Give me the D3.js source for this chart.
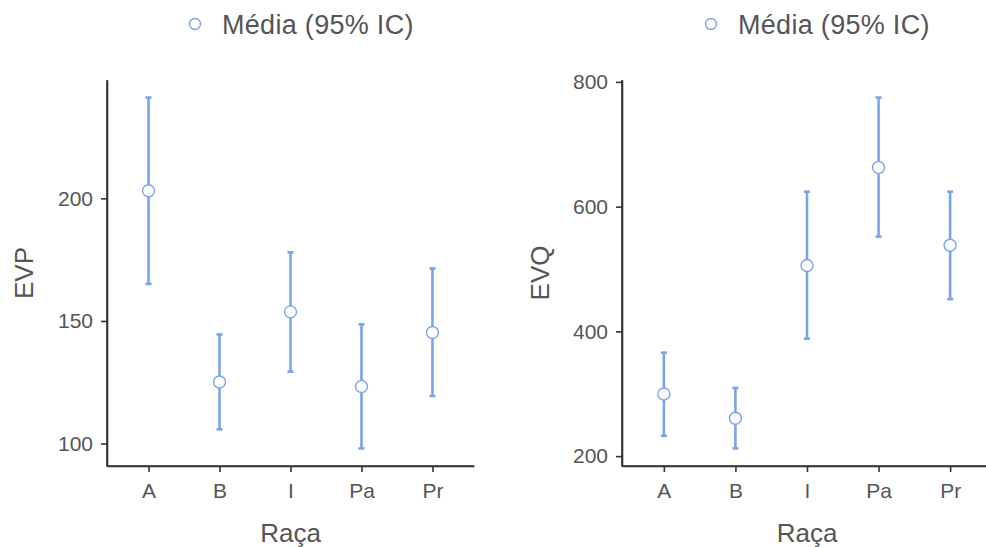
<!DOCTYPE html>
<html>
<head>
<meta charset="utf-8">
<script src="https://cdn.jsdelivr.net/npm/d3@7"></script>
<style>
  body { margin: 0; background: #fff; }
  svg { display: block; font-family: "Liberation Sans", Arial, sans-serif; }
</style>
</head>
<body>
<script>
// categories (Raça)
const racas = ["A", "B", "I", "Pa", "Pr"];

// EVP: mean and 95% CI
const evpMean  = [203.1, 125.1, 153.7, 123.3, 145.3];
const evpLower = [165.1, 105.8, 129.3, 98.0, 119.4];
const evpUpper = [241.1, 144.5, 178.0, 148.6, 171.4];
const evpTicks = [100, 150, 200];

// EVQ: mean and 95% CI
const evqMean  = [299.7, 260.8, 505.6, 662.9, 538.0];
const evqLower = [232.5, 212.3, 388.3, 552.0, 451.7];
const evqUpper = [365.9, 309.3, 624.0, 774.9, 624.0];
const evqTicks = [200, 400, 600, 800];

const legendLabel = "Média (95% IC)";
const xTitle = "Raça";

const width = 986, height = 547;
const blue = "#78a5ea";
const svg = d3.select("body").append("svg").attr("width", width).attr("height", height);

function panel(opts) {
  const { x0, x1, yTop, yBottom, mean, lower, upper, ticks, yTitle, yTitleX, legendX } = opts;

  // ggplot-like 5% expansion
  const lo = d3.min(lower), hi = d3.max(upper), pad = (hi - lo) * 0.05;
  const y = d3.scaleLinear().domain([lo - pad, hi + pad]).range([yBottom, yTop]);
  const x = d3.scalePoint().domain(racas).range([x0, x1]).padding(0.585);

  const g = svg.append("g");

  // axes
  const yAxis = g.append("g").attr("transform", `translate(${x0},0)`)
    .call(d3.axisLeft(y).tickValues(ticks).tickSize(6).tickPadding(8).tickSizeOuter(0));
  const xAxis = g.append("g").attr("transform", `translate(0,${yBottom})`)
    .call(d3.axisBottom(x).tickSize(6).tickPadding(11).tickSizeOuter(0));
  [yAxis, xAxis].forEach(a => {
    a.select(".domain").attr("stroke", "#333").attr("stroke-width", 1.6);
    a.selectAll(".tick line").attr("stroke", "#333").attr("stroke-width", 1.6);
    a.selectAll(".tick text").attr("fill", "#555").style("font-size", "21px");
  });
  // joined corner
  g.append("path").attr("d", `M${x0},${yTop}V${yBottom}H${x1}`)
    .attr("fill", "none").attr("stroke", "#333").attr("stroke-width", 1.6);

  // error bars
  const data = racas.map((r, i) => ({ r, m: mean[i], l: lower[i], u: upper[i] }));
  const eb = g.append("g").selectAll("g").data(data).join("g");
  eb.append("line")
    .attr("x1", d => x(d.r)).attr("x2", d => x(d.r))
    .attr("y1", d => y(d.l)).attr("y2", d => y(d.u))
    .attr("stroke", blue).attr("stroke-width", 2.6);
  ["l", "u"].forEach(k => {
    eb.append("line")
      .attr("x1", d => x(d.r) - 3).attr("x2", d => x(d.r) + 3)
      .attr("y1", d => y(d[k])).attr("y2", d => y(d[k]))
      .attr("stroke", blue).attr("stroke-width", 2.6);
  });
  eb.append("circle")
    .attr("cx", d => x(d.r)).attr("cy", d => y(d.m)).attr("r", 6)
    .attr("fill", "#fff").attr("stroke", blue).attr("stroke-width", 1.4);

  // titles
  g.append("text").attr("x", (x0 + x1) / 2).attr("y", yBottom + 76)
    .attr("text-anchor", "middle").attr("fill", "#555").style("font-size", "26px").text(xTitle);
  g.append("text").attr("transform", `translate(${yTitleX},${(yTop + yBottom) / 2}) rotate(-90)`)
    .attr("text-anchor", "middle").attr("fill", "#555").style("font-size", "26px").text(yTitle);

  // legend
  g.append("circle").attr("cx", legendX).attr("cy", 24).attr("r", 5.5)
    .attr("fill", "#fff").attr("stroke", blue).attr("stroke-width", 1.4);
  g.append("text").attr("x", legendX + 27).attr("y", 34)
    .attr("fill", "#555").style("font-size", "27px").style("letter-spacing", "0.3px").text(legendLabel);
}

panel({ x0: 107, x1: 474, yTop: 80, yBottom: 466, mean: evpMean, lower: evpLower, upper: evpUpper,
        ticks: evpTicks, yTitle: "EVP", yTitleX: 33, legendX: 195 });
panel({ x0: 622, x1: 992, yTop: 80, yBottom: 466, mean: evqMean, lower: evqLower, upper: evqUpper,
        ticks: evqTicks, yTitle: "EVQ", yTitleX: 549, legendX: 711 });
</script>
</body>
</html>
